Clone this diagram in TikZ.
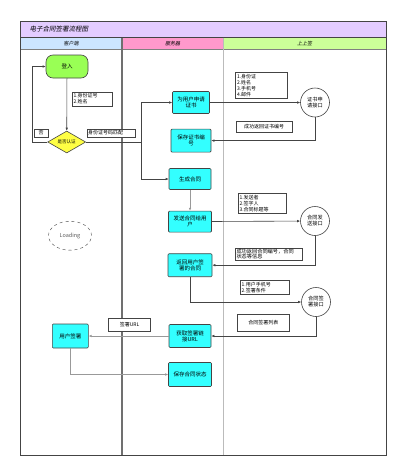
\documentclass[tikz,border=0pt]{standalone}
\usepackage{fontspec}
\newfontfamily\cjk{Noto Sans CJK SC}
\newfontfamily\cjkslant[FakeSlant=0.2]{Noto Sans CJK SC}
\usetikzlibrary{arrows.meta,positioning,shapes.geometric}

\definecolor{titlebg}{HTML}{E3CCFF}
\definecolor{clientbg}{HTML}{CCE5FF}
\definecolor{serverbg}{HTML}{FF99CC}
\definecolor{ssqbg}{HTML}{CCFF99}
\definecolor{boxcyan}{HTML}{33FFFF}
\definecolor{startgreen}{HTML}{99FF55}
\definecolor{decyellow}{HTML}{FFFF44}
\definecolor{linegray}{HTML}{444444}

\begin{document}
\begin{tikzpicture}[
  x=1pt, y=-1pt,
  font=\cjk\fontsize{5.5}{6}\selectfont,
  proc/.style={draw=linegray, fill=boxcyan, rounded corners=1pt, align=center, inner sep=1pt, line width=0.6pt},
  startbox/.style={draw=linegray, fill=startgreen, rounded corners=7pt, minimum width=42pt, minimum height=23pt, line width=0.6pt},
  decide/.style={draw=linegray, fill=decyellow, diamond, shape aspect=1.7, inner sep=0pt, minimum width=38pt, minimum height=22pt, line width=0.6pt, font=\cjk\fontsize{4.5}{5}\selectfont},
  iface/.style={draw=linegray, fill=white, circle, minimum size=29pt, inner sep=0pt, align=center, line width=0.6pt, font=\cjk\fontsize{5.2}{6}\selectfont},
  tag/.style={draw=linegray, fill=white, inner sep=1.5pt, align=left, line width=0.5pt, font=\cjk\fontsize{5}{6}\selectfont},
  arrow/.style={-{Latex[length=3pt,width=2.6pt]}, line width=0.6pt, draw=linegray},
  grayarrow/.style={arrow, draw=gray!80}
]
\useasboundingbox (0,0) rectangle (400,469);
\fill[white] (0,0) rectangle (400,469);

% lanes
\draw[fill=titlebg, draw=linegray, line width=0.6pt] (20,21) rectangle (386,37.5);
\node[anchor=west, font=\cjkslant\fontsize{6.5}{7}\selectfont] (title) at (26,29.2) {电子合同签署流程图};
\fill[clientbg] (20,37.5) rectangle (122,49.5);
\fill[serverbg] (122,37.5) rectangle (223.5,49.5);
\fill[ssqbg] (223.5,37.5) rectangle (386,49.5);
\draw[gray, line width=0.5pt] (20,49.5) -- (386,49.5);
\node[font=\cjkslant\fontsize{5}{6}\selectfont] (lane1) at (71,43.5) {客户端};
\node[font=\cjkslant\fontsize{5}{6}\selectfont] (lane2) at (172.7,43.5) {服务器};
\node[font=\cjkslant\fontsize{5}{6}\selectfont] (lane3) at (304.7,43.5) {上上签};
\draw[draw={rgb,255:red,112;green,112;blue,112}, line width=1.2pt] (122,37.5) -- (122,455);
\draw[draw={rgb,255:red,187;green,187;blue,187}, line width=1pt] (223.5,37.5) -- (223.5,455);
\draw[linegray, line width=0.7pt] (20,21) rectangle (386,455);

% client side
\node[startbox] (login) at (67,66.5) {登入};
\node[tag, text width=37pt] (idtag) at (92,99) {1.身份证号\\2.姓名};
\node[decide] (check) at (66.7,142) {是否认证};
\node[tag, minimum width=14pt, minimum height=8pt, inner sep=0.5pt, align=center] (notag) at (41,133) {否};
\node[tag, text width=46pt, inner sep=1pt, minimum height=8pt] (matchtag) at (111,133) {身份证号码匹配};
\coordinate (loop) at (32,142);
\coordinate (split) at (141,142);
\node[draw=linegray, dashed, ellipse, minimum width=43pt, minimum height=29pt, inner sep=0pt, text=gray!70!black] (loading) at (70,235.7) {Loading};

% certificate
\node[proc, minimum width=37pt, minimum height=22pt] (cert) at (191,102.5) {为用户申请\\证书};
\node[proc, minimum width=40pt, minimum height=23pt, below=15pt of cert] (store) {保存证书编\\号};
\node[iface] (certapi) at (315,102.5) {证书申\\请接口};
\node[tag, text width=49pt] (certtag) at (261.5,85.5) {1.身份证\\2.姓名\\3.手机号\\4.邮件};
\node[tag, minimum width=56pt, minimum height=11pt, align=center] (certok) at (264,127) {成功返回证书编号};

% contract
\node[proc, minimum width=42pt, minimum height=21pt] (gen) at (190,179) {生成合同};
\node[proc, minimum width=43pt, minimum height=21pt, below=21pt of gen] (send) {发送合同给用\\户};
\node[iface] (sendapi) at (315,221) {合同发\\送接口};
\node[tag, text width=45pt] (sendtag) at (262,203.3) {1.发送者\\2.签字人\\3.合同标题等};
\node[tag, text width=65pt, inner sep=1pt, font=\cjk\fontsize{5.2}{5.5}\selectfont] (sendok) at (269,254) {成功返回合同编号，合同\\状态等信息};
\node[proc, minimum width=44pt, minimum height=23pt, below=21pt of send] (ret) {返回用户签\\署的合同};

% signing
\node[iface] (signapi) at (316,302) {合同签\\署接口};
\node[tag, text width=46pt] (signtag) at (264.7,287.5) {1.用户手机号\\2.签署条件};
\node[tag, minimum width=52pt, minimum height=17pt, align=center] (signlist) at (263.3,323) {合同签署列表};
\node[proc, minimum width=42pt, minimum height=23pt] (link) at (190,336) {获取签署链\\接URL};
\node[tag, minimum width=42pt, minimum height=13pt, align=center] (urltag) at (129.5,325) {签署URL};
\node[proc, minimum width=36pt, minimum height=24pt] (sign) at (70.3,336) {用户签署};
\node[proc, minimum width=43pt, minimum height=24pt] (save) at (190,374.5) {保存合同状态};

\draw[arrow] (login) -- (check);
\draw[arrow] (check.west) -- (loop) |- (login.west);
\draw[arrow] (check.east) -- (split) |- (cert.west);
\draw[arrow] (split) |- (gen.west);
\draw[arrow] (cert) -- (certapi);
\draw[arrow] (certapi.south) |- (store.east);
\draw[grayarrow] (gen) -- (send);
\draw[arrow] (send) -- (sendapi);
\draw[arrow] (sendapi.south) |- (ret.east);
\draw[arrow] (ret.south) |- (signapi.west);
\draw[arrow] (signapi.south) |- (link.east);
\draw[grayarrow] (link) -- (sign);
\draw[grayarrow] (sign.south) |- (save.west);

\end{tikzpicture}
\end{document}
